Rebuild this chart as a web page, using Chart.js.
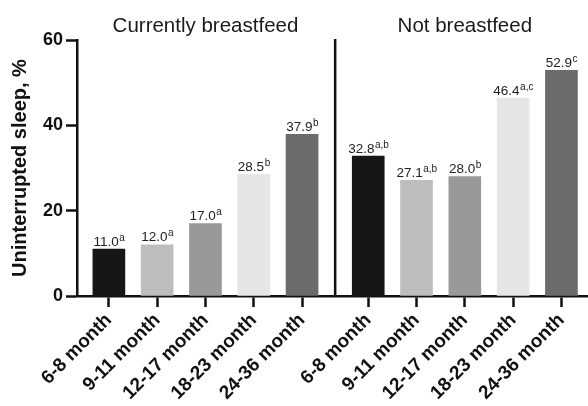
<!DOCTYPE html>
<html>
<head>
<meta charset="utf-8">
<script src="https://cdn.jsdelivr.net/npm/chart.js@4/dist/chart.umd.min.js"></script>
<style>
  html, body { margin: 0; padding: 0; background: #fff; }
  canvas { display: block; }
</style>
</head>
<body>
<canvas id="c" width="588" height="406"></canvas>
<script>
// Age bands shown in each panel
const ageGroups = ['6-8 month', '9-11 month', '12-17 month', '18-23 month', '24-36 month'];
const groupTitles = ['Currently breastfeed', 'Not breastfeed'];

// Share of children with uninterrupted sleep (%), with significance letters
const breastfedValues = [11.0, 12.0, 17.0, 28.5, 37.9];
const breastfedLetters = ['a', 'a', 'a', 'b', 'b'];
const notBreastfedValues = [32.8, 27.1, 28.0, 46.4, 52.9];
const notBreastfedLetters = ['a,b', 'a,b', 'b', 'a,c', 'c'];

const yTicks = [0, 20, 40, 60];
const yTitle = 'Uninterrupted sleep, %';

// Styling
const barColors = ['#161616', '#bdbdbd', '#999999', '#e5e6e5', '#6b6b6b'];
const FONT = '"Liberation Sans", Arial, Helvetica, sans-serif';
const INK = '#111';
const GROUP_SHIFT = 5.37;               // horizontal offset of the second panel
const xPos = (g, i) => g * GROUP_SHIFT + i;

const series = [
  { values: breastfedValues, letters: breastfedLetters },
  { values: notBreastfedValues, letters: notBreastfedLetters }
];

const tickValues = [];
const tickLabels = [];
series.forEach((s, g) => ageGroups.forEach((a, i) => {
  tickValues.push(xPos(g, i));
  tickLabels.push(a);
}));

// Divider between panels, value labels with superscripts, panel titles
const annotate = {
  id: 'annotate',
  afterDatasetsDraw(chart) {
    const ctx = chart.ctx;
    const { top, bottom } = chart.chartArea;
    const xs = chart.scales.x;
    ctx.save();

    const divX = xs.getPixelForValue((xPos(0, ageGroups.length - 1) + xPos(1, 0)) / 2);
    ctx.strokeStyle = INK;
    ctx.lineWidth = 2.5;
    ctx.beginPath();
    ctx.moveTo(divX, top - 1);
    ctx.lineTo(divX, bottom);
    ctx.stroke();

    chart.data.datasets.forEach((ds, d) => {
      const meta = chart.getDatasetMeta(d);
      meta.data.forEach((bar, i) => {
        const main = series[d].values[i].toFixed(1);
        const sup = series[d].letters[i];
        ctx.font = `13.5px ${FONT}`;
        const wMain = ctx.measureText(main).width;
        ctx.font = `10px ${FONT}`;
        const wSup = ctx.measureText(sup).width;
        const x0 = bar.x - (wMain + wSup) / 2;
        const y0 = bar.y - 3.5;
        ctx.fillStyle = '#222';
        ctx.textAlign = 'left';
        ctx.textBaseline = 'alphabetic';
        ctx.font = `13.5px ${FONT}`;
        ctx.fillText(main, x0, y0);
        ctx.font = `10px ${FONT}`;
        ctx.fillText(sup, x0 + wMain + 0.5, y0 - 5);
      });

      const first = meta.data[0].x;
      const last = meta.data[meta.data.length - 1].x;
      ctx.font = `20.5px ${FONT}`;
      ctx.textAlign = 'center';
      ctx.fillStyle = '#1a1a1a';
      ctx.fillText(groupTitles[d], (first + last) / 2, 32);
    });
    ctx.restore();
  }
};

new Chart(document.getElementById('c'), {
  type: 'bar',
  data: {
    datasets: series.map((s, g) => ({
      label: groupTitles[g],
      data: s.values.map((v, i) => ({ x: xPos(g, i), y: v })),
      backgroundColor: barColors,
      borderWidth: 0,
      barThickness: 32,
      grouped: false
    }))
  },
  options: {
    responsive: false,
    animation: false,
    devicePixelRatio: 1,
    layout: { padding: { top: 40, left: 0, right: 0, bottom: 0 } },
    plugins: { legend: { display: false }, tooltip: { enabled: false } },
    scales: {
      x: {
        type: 'linear',
        min: -0.66,
        max: 9.92,
        offset: false,
        afterBuildTicks: s => { s.ticks = tickValues.map(v => ({ value: v })); },
        afterFit: s => { s.height = 110; },
        grid: { display: true, drawOnChartArea: false, drawTicks: true, tickLength: 11, tickWidth: 2.5, tickColor: INK, offset: false },
        border: { display: true, color: INK, width: 2.5 },
        ticks: {
          autoSkip: false, minRotation: 45, maxRotation: 45, padding: 2,
          color: INK, font: { family: FONT, size: 19, weight: 'bold' },
          callback: (v, i) => tickLabels[i]
        }
      },
      y: {
        min: 0,
        max: 60,
        afterBuildTicks: s => { s.ticks = yTicks.map(v => ({ value: v })); },
        afterFit: s => { s.width = 77; },
        grid: { drawOnChartArea: false, tickLength: 11, tickWidth: 2.5, tickColor: INK },
        border: { color: INK, width: 2.5 },
        ticks: { padding: 3, color: INK, font: { family: FONT, size: 18, weight: 'bold' } },
        title: {
          display: true, text: yTitle, color: INK,
          font: { family: FONT, size: 20, weight: 'bold' },
          padding: { top: 8, bottom: 0 }
        }
      }
    }
  },
  plugins: [annotate]
});
</script>
</body>
</html>
